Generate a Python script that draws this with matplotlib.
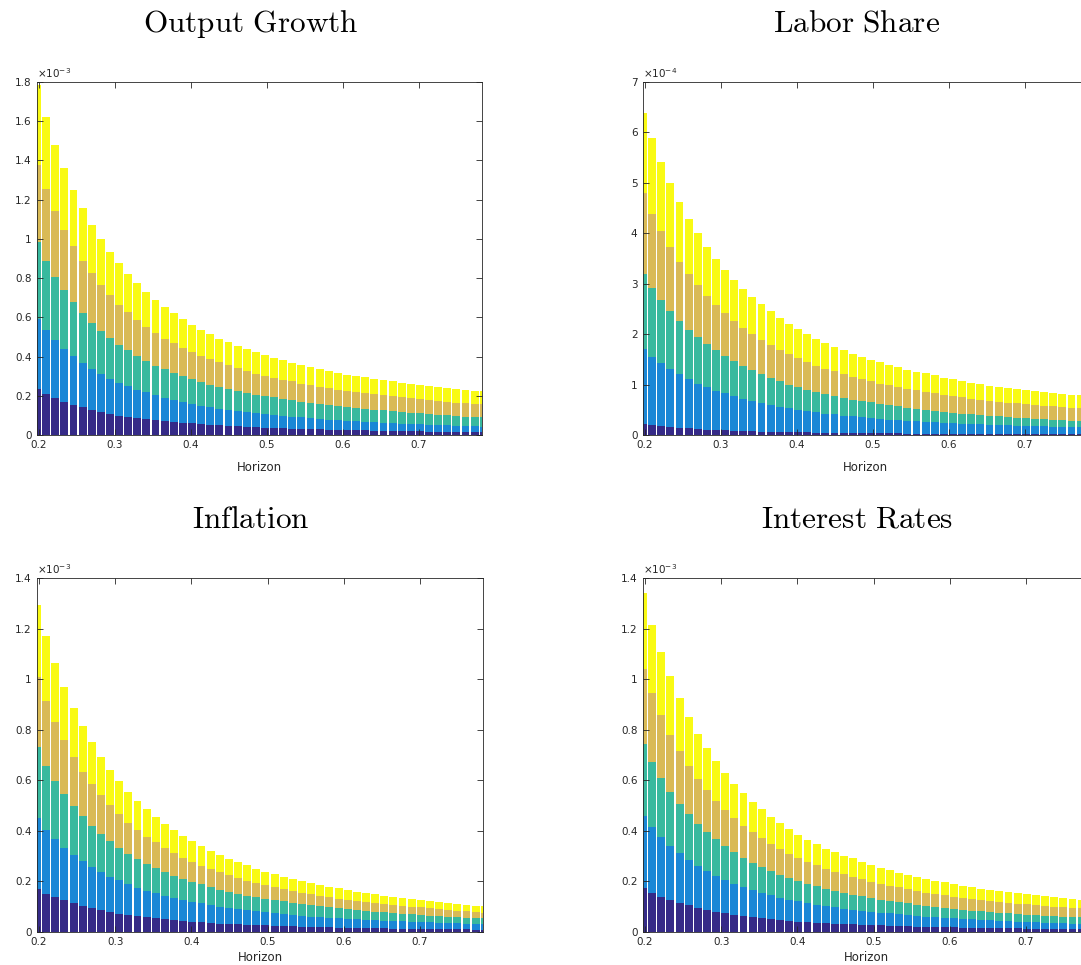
import matplotlib
matplotlib.use("Agg")
import matplotlib.pyplot as plt
import numpy as np
from matplotlib.ticker import FuncFormatter

plt.rcParams["mathtext.fontset"] = "cm"

# =========================
# Datos (tope acumulado de cada capa, en unidades de 10^exp)
# =========================
horizon = np.round(0.1973 + 0.012 * np.arange(50), 4)

output_yellow = [1.783, 1.621, 1.478, 1.359, 1.250, 1.156, 1.073, 1.000, 0.933, 0.875,
                 0.819, 0.773, 0.729, 0.690, 0.652, 0.620, 0.589, 0.562, 0.536, 0.514,
                 0.492, 0.473, 0.456, 0.440, 0.422, 0.407, 0.395, 0.380, 0.368, 0.358,
                 0.346, 0.337, 0.325, 0.317, 0.308, 0.302, 0.295, 0.286, 0.279, 0.274,
                 0.266, 0.261, 0.254, 0.249, 0.244, 0.239, 0.233, 0.228, 0.225, 0.222]
output_tan = [1.379, 1.252, 1.141, 1.047, 0.962, 0.889, 0.824, 0.766, 0.712, 0.664,
              0.625, 0.588, 0.552, 0.521, 0.492, 0.467, 0.444, 0.424, 0.405, 0.388,
              0.373, 0.358, 0.341, 0.328, 0.313, 0.302, 0.293, 0.281, 0.273, 0.262,
              0.254, 0.247, 0.239, 0.232, 0.225, 0.218, 0.213, 0.208, 0.203, 0.198,
              0.193, 0.187, 0.182, 0.177, 0.174, 0.170, 0.165, 0.162, 0.158, 0.156]
output_green = [0.983, 0.889, 0.807, 0.739, 0.678, 0.623, 0.572, 0.531, 0.496, 0.460,
                0.431, 0.404, 0.376, 0.354, 0.334, 0.317, 0.301, 0.286, 0.271, 0.257,
                0.245, 0.235, 0.224, 0.215, 0.206, 0.201, 0.194, 0.184, 0.177, 0.170,
                0.164, 0.158, 0.153, 0.148, 0.143, 0.138, 0.135, 0.129, 0.126, 0.121,
                0.118, 0.114, 0.111, 0.107, 0.104, 0.101, 0.097, 0.094, 0.092, 0.090]
output_blue = [0.594, 0.536, 0.485, 0.441, 0.404, 0.368, 0.337, 0.313, 0.288, 0.267,
               0.249, 0.232, 0.218, 0.204, 0.191, 0.181, 0.170, 0.160, 0.150, 0.143,
               0.135, 0.129, 0.122, 0.116, 0.111, 0.106, 0.102, 0.097, 0.094, 0.090,
               0.085, 0.082, 0.078, 0.075, 0.072, 0.070, 0.066, 0.065, 0.063, 0.060,
               0.058, 0.056, 0.055, 0.053, 0.051, 0.049, 0.048, 0.046, 0.044, 0.043]
output_dark = [0.233, 0.208, 0.189, 0.170, 0.153, 0.141, 0.129, 0.119, 0.109, 0.099,
               0.092, 0.087, 0.080, 0.077, 0.072, 0.068, 0.063, 0.060, 0.056, 0.053,
               0.049, 0.048, 0.044, 0.042, 0.039, 0.037, 0.036, 0.034, 0.032, 0.031,
               0.030, 0.029, 0.027, 0.026, 0.025, 0.024, 0.024, 0.022, 0.022, 0.020,
               0.020, 0.019, 0.019, 0.017, 0.017, 0.015, 0.015, 0.015, 0.014, 0.014]

labor_yellow = [6.39, 5.88, 5.41, 5.00, 4.63, 4.29, 4.00, 3.73, 3.49, 3.27,
                3.08, 2.90, 2.73, 2.59, 2.46, 2.32, 2.21, 2.10, 2.00, 1.91,
                1.83, 1.75, 1.68, 1.61, 1.55, 1.49, 1.44, 1.39, 1.34, 1.29,
                1.25, 1.22, 1.18, 1.14, 1.11, 1.07, 1.04, 1.01, 0.98, 0.96,
                0.94, 0.92, 0.90, 0.87, 0.85, 0.83, 0.81, 0.80, 0.79, 0.78]
labor_tan = [4.80, 4.39, 4.04, 3.72, 3.44, 3.19, 2.97, 2.76, 2.58, 2.42,
             2.26, 2.13, 2.00, 1.89, 1.78, 1.68, 1.60, 1.52, 1.45, 1.37,
             1.31, 1.26, 1.20, 1.16, 1.12, 1.07, 1.02, 0.99, 0.95, 0.92,
             0.89, 0.85, 0.83, 0.80, 0.77, 0.75, 0.72, 0.70, 0.68, 0.66,
             0.64, 0.63, 0.61, 0.59, 0.58, 0.57, 0.55, 0.54, 0.53, 0.52]
labor_green = [3.19, 2.91, 2.67, 2.45, 2.26, 2.09, 1.94, 1.80, 1.68, 1.57,
               1.47, 1.37, 1.28, 1.20, 1.14, 1.07, 1.00, 0.95, 0.90, 0.86,
               0.81, 0.77, 0.73, 0.70, 0.67, 0.65, 0.62, 0.59, 0.57, 0.54,
               0.52, 0.50, 0.48, 0.46, 0.44, 0.42, 0.41, 0.40, 0.38, 0.37,
               0.36, 0.34, 0.33, 0.32, 0.31, 0.30, 0.29, 0.28, 0.28, 0.27]
labor_blue = [1.70, 1.55, 1.43, 1.31, 1.21, 1.11, 1.02, 0.95, 0.88, 0.83,
              0.77, 0.72, 0.67, 0.63, 0.60, 0.56, 0.53, 0.50, 0.47, 0.45,
              0.42, 0.41, 0.38, 0.37, 0.35, 0.34, 0.32, 0.30, 0.30, 0.28,
              0.27, 0.26, 0.25, 0.24, 0.23, 0.22, 0.22, 0.21, 0.20, 0.20,
              0.19, 0.18, 0.18, 0.17, 0.17, 0.16, 0.16, 0.15, 0.15, 0.14]
labor_dark = [0.22, 0.20, 0.18, 0.16, 0.14, 0.13, 0.11, 0.10, 0.09, 0.09,
              0.08, 0.07, 0.07, 0.06, 0.06, 0.05, 0.05, 0.05, 0.05, 0.04,
              0.04, 0.04, 0.03, 0.03, 0.03, 0.03, 0.03, 0.03, 0.03, 0.02,
              0.02, 0.02, 0.02, 0.02, 0.02, 0.02, 0.02, 0.02, 0.02, 0.01,
              0.01, 0.01, 0.01, 0.01, 0.01, 0.01, 0.01, 0.01, 0.01, 0.01]

infl_yellow = [1.294, 1.171, 1.062, 0.968, 0.886, 0.813, 0.750, 0.693, 0.642, 0.597,
               0.555, 0.519, 0.487, 0.456, 0.428, 0.403, 0.380, 0.359, 0.339, 0.321,
               0.305, 0.290, 0.275, 0.264, 0.249, 0.238, 0.229, 0.219, 0.209, 0.201,
               0.195, 0.187, 0.179, 0.174, 0.167, 0.160, 0.155, 0.150, 0.144, 0.139,
               0.135, 0.130, 0.126, 0.122, 0.118, 0.114, 0.111, 0.106, 0.103, 0.101]
infl_tan = [1.009, 0.914, 0.829, 0.758, 0.691, 0.634, 0.584, 0.540, 0.501, 0.465,
            0.432, 0.404, 0.377, 0.354, 0.332, 0.313, 0.294, 0.278, 0.262, 0.249,
            0.237, 0.224, 0.213, 0.203, 0.193, 0.185, 0.177, 0.170, 0.163, 0.155,
            0.150, 0.143, 0.138, 0.132, 0.127, 0.123, 0.118, 0.114, 0.111, 0.107,
            0.103, 0.099, 0.097, 0.094, 0.090, 0.087, 0.085, 0.082, 0.079, 0.077]
infl_green = [0.730, 0.658, 0.597, 0.544, 0.499, 0.457, 0.420, 0.388, 0.360, 0.334,
              0.310, 0.290, 0.270, 0.253, 0.238, 0.223, 0.211, 0.197, 0.188, 0.176,
              0.168, 0.159, 0.151, 0.144, 0.138, 0.131, 0.127, 0.122, 0.115, 0.111,
              0.106, 0.102, 0.098, 0.094, 0.090, 0.087, 0.083, 0.081, 0.078, 0.075,
              0.073, 0.070, 0.068, 0.065, 0.064, 0.061, 0.060, 0.057, 0.056, 0.054]
infl_blue = [0.449, 0.404, 0.367, 0.334, 0.306, 0.279, 0.257, 0.237, 0.219, 0.204,
             0.189, 0.175, 0.164, 0.154, 0.144, 0.135, 0.127, 0.119, 0.113, 0.106,
             0.099, 0.095, 0.090, 0.086, 0.082, 0.078, 0.074, 0.070, 0.068, 0.065,
             0.061, 0.060, 0.057, 0.054, 0.052, 0.050, 0.048, 0.046, 0.045, 0.044,
             0.042, 0.041, 0.040, 0.038, 0.037, 0.036, 0.034, 0.033, 0.032, 0.031]
infl_dark = [0.170, 0.152, 0.138, 0.125, 0.113, 0.103, 0.094, 0.086, 0.079, 0.073,
             0.068, 0.064, 0.060, 0.054, 0.050, 0.046, 0.044, 0.041, 0.038, 0.036,
             0.033, 0.032, 0.030, 0.029, 0.028, 0.026, 0.025, 0.024, 0.023, 0.021,
             0.020, 0.020, 0.019, 0.017, 0.017, 0.016, 0.016, 0.015, 0.015, 0.013,
             0.013, 0.013, 0.012, 0.012, 0.012, 0.011, 0.011, 0.011, 0.009, 0.009]

rate_yellow = [1.340, 1.215, 1.106, 1.011, 0.926, 0.852, 0.785, 0.728, 0.677, 0.629,
               0.587, 0.550, 0.515, 0.485, 0.456, 0.430, 0.407, 0.384, 0.364, 0.347,
               0.330, 0.315, 0.302, 0.291, 0.278, 0.266, 0.254, 0.245, 0.234, 0.226,
               0.217, 0.211, 0.203, 0.197, 0.189, 0.183, 0.177, 0.172, 0.167, 0.163,
               0.158, 0.154, 0.150, 0.146, 0.142, 0.138, 0.135, 0.131, 0.128, 0.126]
rate_tan = [1.041, 0.944, 0.857, 0.781, 0.717, 0.658, 0.607, 0.560, 0.519, 0.483,
            0.450, 0.421, 0.395, 0.371, 0.348, 0.328, 0.310, 0.293, 0.278, 0.264,
            0.250, 0.238, 0.228, 0.218, 0.209, 0.199, 0.191, 0.183, 0.176, 0.170,
            0.163, 0.156, 0.151, 0.146, 0.140, 0.136, 0.131, 0.127, 0.123, 0.119,
            0.115, 0.111, 0.109, 0.105, 0.102, 0.099, 0.097, 0.094, 0.093, 0.091]
rate_green = [0.744, 0.673, 0.609, 0.555, 0.507, 0.466, 0.429, 0.395, 0.366, 0.339,
              0.315, 0.294, 0.274, 0.257, 0.241, 0.226, 0.213, 0.200, 0.189, 0.180,
              0.171, 0.163, 0.155, 0.147, 0.141, 0.135, 0.128, 0.123, 0.118, 0.113,
              0.107, 0.103, 0.099, 0.095, 0.091, 0.087, 0.085, 0.082, 0.079, 0.077,
              0.074, 0.072, 0.069, 0.068, 0.065, 0.062, 0.061, 0.060, 0.058, 0.057]
rate_blue = [0.458, 0.415, 0.374, 0.340, 0.311, 0.285, 0.261, 0.241, 0.223, 0.207,
             0.191, 0.177, 0.166, 0.155, 0.146, 0.136, 0.128, 0.121, 0.114, 0.107,
             0.101, 0.097, 0.091, 0.088, 0.084, 0.079, 0.077, 0.074, 0.070, 0.066,
             0.064, 0.061, 0.058, 0.057, 0.054, 0.052, 0.050, 0.048, 0.046, 0.045,
             0.042, 0.041, 0.040, 0.038, 0.037, 0.036, 0.034, 0.033, 0.033, 0.032]
rate_dark = [0.174, 0.154, 0.139, 0.126, 0.114, 0.105, 0.095, 0.087, 0.081, 0.074,
             0.069, 0.064, 0.058, 0.054, 0.050, 0.046, 0.044, 0.041, 0.038, 0.036,
             0.034, 0.032, 0.030, 0.030, 0.028, 0.028, 0.026, 0.025, 0.024, 0.023,
             0.021, 0.020, 0.020, 0.019, 0.019, 0.017, 0.017, 0.016, 0.016, 0.015,
             0.015, 0.015, 0.013, 0.013, 0.013, 0.012, 0.012, 0.012, 0.011, 0.011]

colors = ["#352a87", "#1a87d6", "#38b99e", "#d9ba56", "#f9fa14"]
text_col = "#262626"

panels = [
    ("Output Growth", [output_dark, output_blue, output_green, output_tan, output_yellow], 1.8, 0.2, -3),
    ("Labor Share", [labor_dark, labor_blue, labor_green, labor_tan, labor_yellow], 7, 1, -4),
    ("Inflation", [infl_dark, infl_blue, infl_green, infl_tan, infl_yellow], 1.4, 0.2, -3),
    ("Interest Rates", [rate_dark, rate_blue, rate_green, rate_tan, rate_yellow], 1.4, 0.2, -3),
]

# posiciones en pixeles (izq, arriba, ancho, alto) y separacion del xlabel
W, H = 1081, 965
boxes = [(37, 82, 445, 353), (643, 82, 445, 353),
         (37, 578, 446, 354), (643, 578, 446, 354)]
label_pads = [8, 8, 3, 3]

fig = plt.figure(figsize=(W / 100, H / 100), dpi=100)

for (title, layers, ymax, ystep, expo), (px, py, pw, ph), lp in zip(panels, boxes, label_pads):
    ax = fig.add_axes([px / W, 1 - (py + ph) / H, pw / W, ph / H])
    prev = np.zeros(len(horizon))
    for tops, c in zip(layers, colors):
        tops = np.array(tops)
        ax.bar(horizon, tops - prev, bottom=prev, width=0.0104,
               color=c, linewidth=0)
        prev = tops

    ax.set_xlim(0.1973, 0.783)
    ax.set_ylim(0, ymax)
    ax.set_xticks([0.2, 0.3, 0.4, 0.5, 0.6, 0.7])
    ax.set_yticks(np.round(np.arange(0, ymax + ystep / 2, ystep), 2))
    ax.yaxis.set_major_formatter(FuncFormatter(lambda v, p: "%g" % v))
    ax.xaxis.set_major_formatter(FuncFormatter(lambda v, p: "%g" % v))
    ax.tick_params(direction="in", length=4, width=0.6, top=True, right=True,
                   labelsize=7.5, colors=text_col)
    ax.tick_params(axis="y", pad=4)
    ax.tick_params(axis="x", pad=3.5)
    for s in ax.spines.values():
        s.set_color(text_col)
        s.set_linewidth(0.6)

    ax.set_xlabel("Horizon", fontsize=8.5, color=text_col, labelpad=lp)
    ax.set_title(r"$\mathrm{%s}$" % title.replace(" ", r"\ "), fontsize=22.5,
                 pad=36, x=0.48)
    ax.text(0.0, 1.006, r"$\times10^{%d}$" % expo, transform=ax.transAxes,
            fontsize=7.5, color=text_col, ha="left", va="bottom",
            math_fontfamily="dejavusans")

fig.savefig("out.png", dpi=100)
